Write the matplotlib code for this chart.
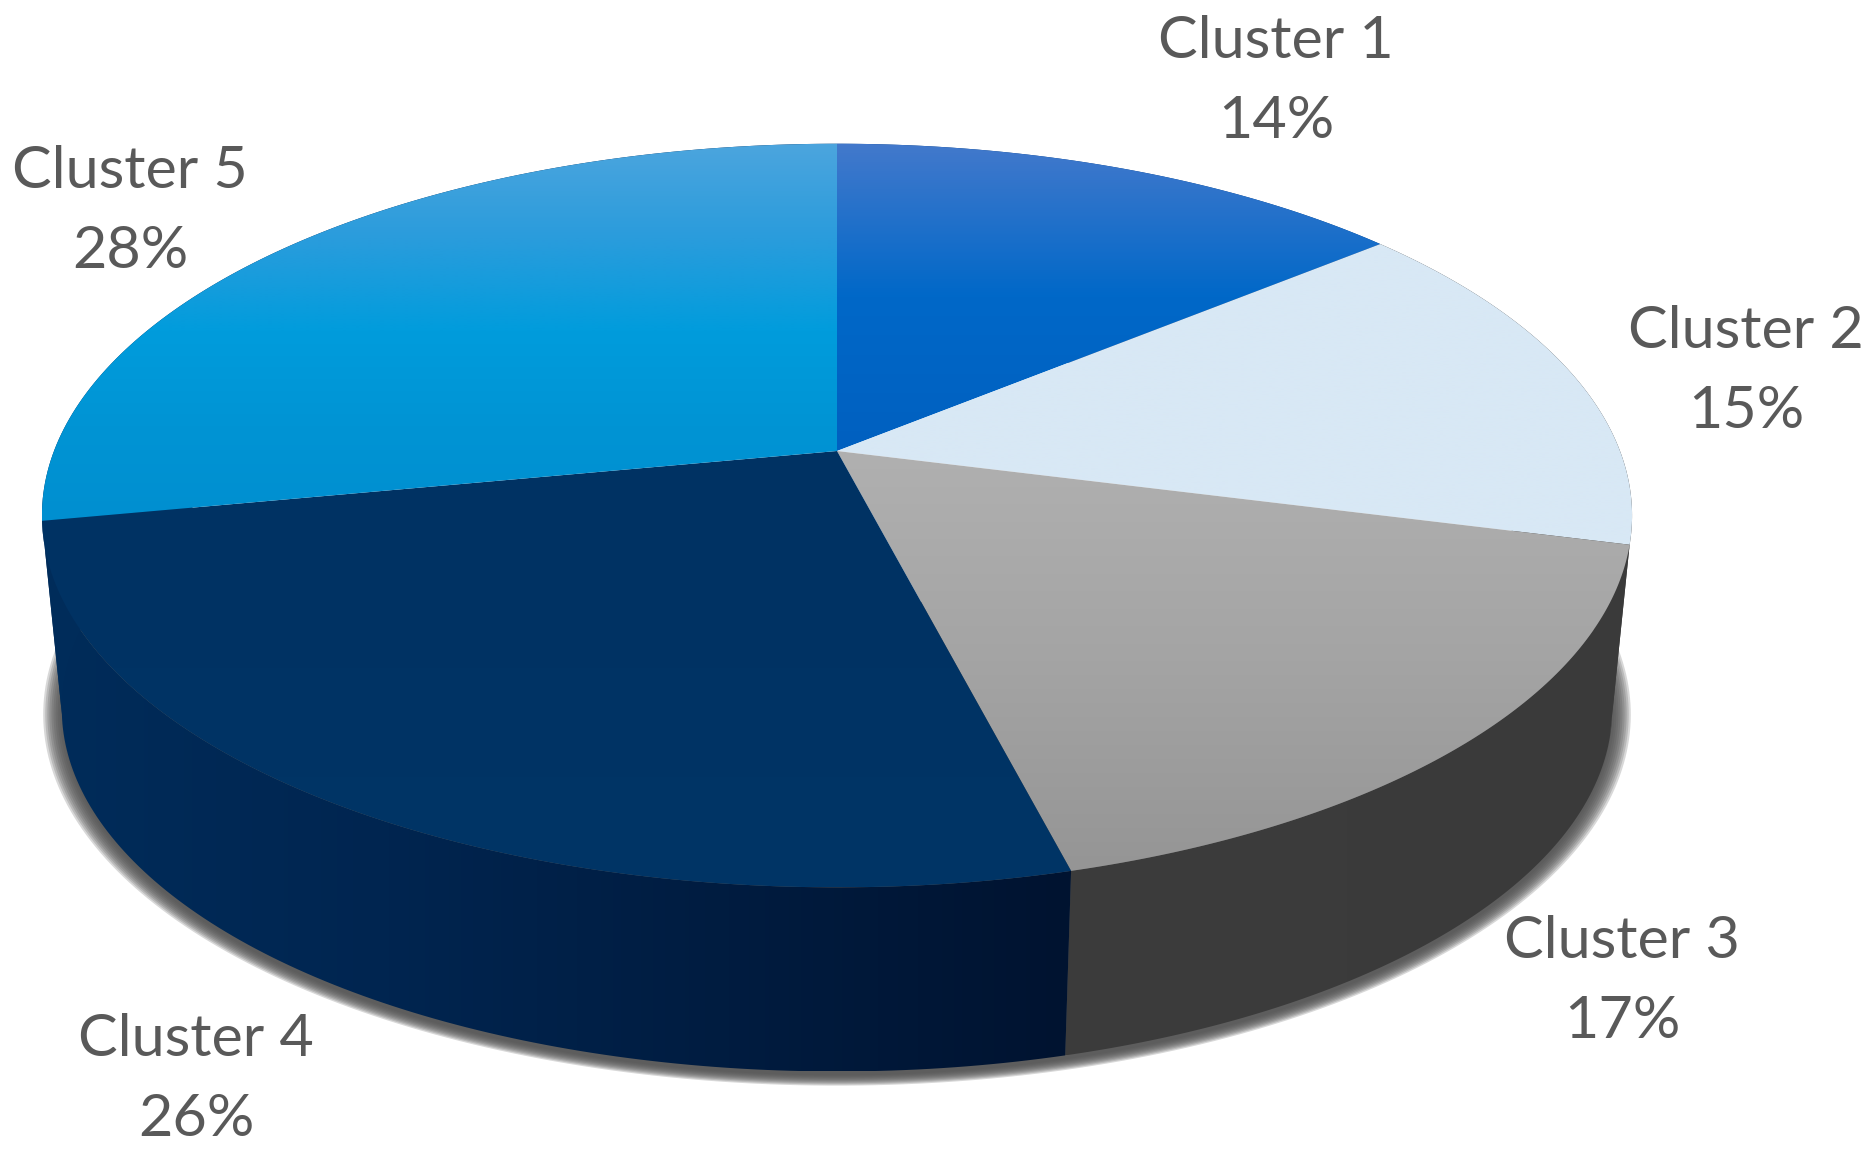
import numpy as np
import matplotlib
matplotlib.use("Agg")
import matplotlib.pyplot as plt
from matplotlib.colors import LinearSegmentedColormap
from matplotlib.patches import Polygon

labels = ["Cluster 1", "Cluster 2", "Cluster 3", "Cluster 4", "Cluster 5"]
shares = [14, 15, 17, 26, 28]

top_colors = [
    ["#4379cc", "#0068c8", "#0060c0"],
    ["#d8e8f5", "#d8e8f5"],
    ["#b0b0b0", "#a4a4a4", "#959595"],
    ["#003263", "#003364", "#003566"],
    ["#4ca5de", "#2a9cdc", "#009cdc", "#0094d4", "#008fd0"],
]
wall_colors = [
    ["#003a80", "#003a80"],
    ["#3c3c3c", "#3c3c3c"],
    ["#3c3c3c", "#3a3a3a"],
    ["#002c5a", "#002550", "#001c40", "#001330"],
    ["#002c5a", "#002c5a"],
]
label_pos = [(1276, 41), (1746, 331), (1622, 942), (196, 1039), (130, 172)]

W, H = 1875, 1157
CX, CY = 837, 451      # apex of the pie in pixels
A, B, K = 783, 360.6, 0.1736   # perspective of the disk
WALL_S, WALL_Y = 0.975, 646    # lower rim


def rim(theta, scale=1.0, y0=CY):
    # clockwise from 12 o'clock
    X = np.sin(theta)
    Y = np.cos(theta)
    w = 1 + K * Y
    return CX + scale * A * X / w, y0 - scale * B * Y / w


def gradient(ax, poly, colors, vertical=True):
    xy = poly.get_xy()
    cmap = LinearSegmentedColormap.from_list("g", colors)
    g = np.linspace(0, 1, 256)
    if vertical:
        img = g.reshape(-1, 1)
    else:
        img = g.reshape(1, -1)
    im = ax.imshow(img, cmap=cmap, aspect="auto", interpolation="bilinear",
                   extent=[xy[:, 0].min(), xy[:, 0].max(), xy[:, 1].max(), xy[:, 1].min()],
                   zorder=poly.get_zorder())
    im.set_clip_path(poly)


fig = plt.figure(figsize=(W / 100, H / 100), dpi=100)
ax = fig.add_axes([0, 0, 1, 1])
ax.axis("off")

edges = np.radians(np.cumsum([0] + shares) / sum(shares) * 360)

# soft shadow under the wall, clipped so it only shows low on the sides
full = np.linspace(0, 2 * np.pi, 400)
clip = Polygon([(0, 585), (W, 620), (W, H), (0, H)], transform=ax.transData, visible=False)
ax.add_patch(clip)
for s in np.linspace(1.024, 1.0, 10):
    sx, sy = rim(full, WALL_S * s, WALL_Y + 4)
    p = ax.fill(sx, sy, color="#505050", alpha=0.22, lw=0, zorder=1)[0]
    p.set_clip_path(clip)

# wall
for i in range(len(shares)):
    th = np.linspace(edges[i], edges[i + 1], 120)
    x1, y1 = rim(th)
    x2, y2 = rim(th, WALL_S, WALL_Y)
    pts = np.column_stack([np.r_[x1, x2[::-1]], np.r_[y1, y2[::-1]]])
    poly = Polygon(pts, closed=True, fc="none", ec="none", zorder=2)
    ax.add_patch(poly)
    gradient(ax, poly, wall_colors[i], vertical=False)

# top face
for i in range(len(shares)):
    th = np.linspace(edges[i], edges[i + 1], 120)
    x1, y1 = rim(th)
    pts = np.column_stack([np.r_[CX, x1], np.r_[CY, y1]])
    poly = Polygon(pts, closed=True, fc="none", ec="none", zorder=3)
    ax.add_patch(poly)
    gradient(ax, poly, top_colors[i])

for name, share, (tx, ty) in zip(labels, shares, label_pos):
    ax.text(tx, ty, name, ha="center", va="center", family="Lato", fontsize=42.7, color="#595959", zorder=5)
    ax.text(tx, ty + 80, f"{share}%", ha="center", va="center", family="Lato", fontsize=42.7, color="#595959", zorder=5)

ax.set_xlim(0, W)
ax.set_ylim(H, 0)
fig.savefig("out.png", dpi=100, facecolor="white")
